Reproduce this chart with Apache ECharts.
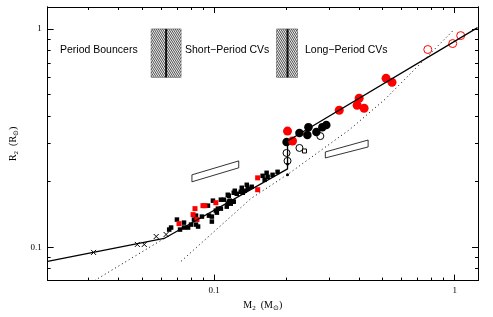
<!DOCTYPE html>
<html><head><meta charset="utf-8">
<script src="https://cdn.jsdelivr.net/npm/echarts@6/dist/echarts.min.js"></script>
<style>html,body{margin:0;padding:0;background:#fff}#c{width:493px;height:317px}</style>
</head><body><div id="c"></div>
<script>
// ---- data (M2 in Msun, R2 in Rsun) ----
const xMajorTicks = [0.1, 1];
const xMinorTicks = [0.03,0.04,0.05,0.06,0.07,0.08,0.09,0.2,0.3,0.4,0.5,0.6,0.7,0.8,0.9];
const yMajorTicks = [0.1, 1];
const yMinorTicks = [0.08,0.09,0.2,0.3,0.4,0.5,0.6,0.7,0.8,0.9];

const blackSmall = [
 [0.0650,0.1207],[0.0662,0.1233],[0.0700,0.1341],[0.0721,0.1207],[0.0749,0.1299],[0.0749,0.1233],
 [0.0779,0.1233],[0.0801,0.1272],[0.0824,0.1341],[0.0840,0.1398],[0.0840,0.1272],[0.0857,0.1246],
 [0.0889,0.1384],[0.0942,0.1553],[0.0951,0.1398],[0.0978,0.1313],[0.0978,0.1384],[0.0988,0.1637],
 [0.1016,0.1474],[0.1026,0.1443],[0.1036,0.1505],[0.1066,0.1654],[0.1066,0.1505],[0.1097,0.1654],
 [0.1128,0.1537],[0.1139,0.1742],[0.1139,0.1586],[0.1150,0.1620],[0.1150,0.1724],[0.1161,0.1637],
 [0.1172,0.1586],[0.1195,0.1620],[0.1206,0.1620],[0.1206,0.1779],[0.1218,0.1817],[0.1241,0.1761],
 [0.1290,0.1798],[0.1302,0.1875],[0.1315,0.1779],[0.1340,0.1817],[0.1366,0.1935],[0.1379,0.1856],
 [0.1432,0.1895],[0.1590,0.2127],[0.1621,0.2039],[0.1652,0.2195],[0.1668,0.2104],[0.1749,0.2149],
 [0.1835,0.2218]
];
const blackDots = [[0.2018,0.2149],[0.2018,0.2412]];
const redSmall = [
 [0.0714,0.1285],[0.0817,0.1413],[0.0832,0.1505],[0.0848,0.1341],[0.0898,0.1553],[0.0915,0.1553],
 [0.1016,0.1602],[0.1516,0.2082],[0.1516,0.1837]
];
const blackBig = [
 [0.1999,0.3037],[0.2262,0.3337],[0.2441,0.3267],[0.2465,0.3553],[0.2660,0.3373],[0.2816,0.3553],[0.2925,0.3630]
];
const redBig = [
 [0.2018,0.3407],[0.2117,0.3069],[0.3311,0.4247],[0.3930,0.4474],[0.4006,0.4817],[0.4201,0.4337],
 [0.5183,0.594],[0.5487,0.5696]
];
const blackOpen = [[0.2763,0.3233],[0.2262,0.2853],[0.1999,0.2706],[0.2018,0.2489]];
const blackOpenSquare = [[0.2373,0.2763]];
const redOpen = [[0.7729,0.805],[0.981,0.857],[1.059,0.932]];
const crosses = [[0.0315,0.0949],[0.0479,0.1032],[0.0512,0.1032],[0.0574,0.1122],[0.0631,0.1146]];

const sequenceLine = [[0.0203,0.0863],[0.0619,0.1099],[0.2018,0.2289],[0.2018,0.3069],[1.245,1.014]];
const dottedLow = [[0.0318,0.0705],[0.0619,0.1099]];
const dottedHigh = [[0.0728,0.0864],[0.1418,0.1671],[0.2037,0.2172],[0.3677,0.3479],[0.5133,0.4766],[1.0,1.0]];

// hatched period-gap bands: [mLow, mHigh, mCentre, rLow, rHigh]
const gapBands = [[0.0547,0.0728,0.0631,0.60,1.0],[0.1817,0.2220,0.2018,0.60,1.0]];
// error boxes (parallelograms)
const errorBoxes = [
 [[0.0808,0.2149],[0.0808,0.1997],[0.1265,0.2314],[0.1265,0.2489]],
 [[0.2898,0.2735],[0.2898,0.2568],[0.4365,0.2883],[0.4365,0.3101]]
];
const regionLabels = ['Period Bouncers','Short\u2212Period CVs','Long\u2212Period CVs'];

const xMin=0.0203, xMax=1.25, yMin=0.0705, yMax=1.26;
const serif = 'Liberation Serif';

function xAx(pos, ticks, len, labels){
  return {type:'log', logBase:10, min:xMin, max:xMax, position:pos, gridIndex:0,
    axisLine:{show:true, onZero:false, lineStyle:{color:'#000',width:1}},
    axisTick:{show:true, inside:true, length:len, customValues:ticks, lineStyle:{color:'#000',width:1}},
    axisLabel:{show:labels, customValues:ticks, formatter:v=>String(+(+v).toPrecision(3)), color:'#000', fontFamily:serif, fontSize:9, margin:6},
    splitLine:{show:false}, minorTick:{show:false}};
}
function yAx(pos, ticks, len, labels){
  return {type:'log', logBase:10, min:yMin, max:yMax, position:pos, gridIndex:0,
    axisLine:{show:true, onZero:false, lineStyle:{color:'#000',width:1}},
    axisTick:{show:true, inside:true, length:len, customValues:ticks, lineStyle:{color:'#000',width:1}},
    axisLabel:{show:labels, customValues:ticks, formatter:v=>String(+(+v).toPrecision(3)), color:'#000', fontFamily:serif, fontSize:9, margin:6},
    splitLine:{show:false}, minorTick:{show:false}};
}
const xAxes=[xAx('bottom',xMajorTicks,6,true), xAx('bottom',xMinorTicks,3,false), xAx('top',xMajorTicks,6,false), xAx('top',xMinorTicks,3,false)];
const yAxes=[yAx('left',yMajorTicks,6,true), yAx('left',yMinorTicks,3,false), yAx('right',yMajorTicks,6,false), yAx('right',yMinorTicks,3,false)];
xAxes[0].name='M{s|2}  (M{s|\u2299})'; xAxes[0].nameLocation='middle'; xAxes[0].nameGap=15;
xAxes[0].nameTextStyle={color:'#000',fontFamily:serif,fontSize:10,rich:{s:{fontFamily:serif,fontSize:7,verticalAlign:'bottom',padding:[6,0,0,0]}}};
yAxes[0].name='R{s|2}  (R{s|\u2299})'; yAxes[0].nameLocation='middle'; yAxes[0].nameGap=17; yAxes[0].nameRotate=90;
yAxes[0].nameTextStyle={color:'#000',fontFamily:serif,fontSize:10,rich:{s:{fontFamily:serif,fontSize:7,verticalAlign:'bottom',padding:[6,0,0,0]}}};

function sc(data, symbol, size, fill, stroke, bw, z){
  return {type:'scatter', data, symbol, symbolSize:size, z:z||3, silent:true,
    itemStyle:{color:fill, borderColor:stroke, borderWidth:bw||0, opacity:1}};
}

const option = {
  animation:false,
  grid:{left:46, top:7, width:432, height:275, containLabel:false},
  xAxis:xAxes, yAxis:yAxes,
  series:[
    {type:'custom', coordinateSystem:'cartesian2d', data:gapBands, encode:{x:[0,1,2],y:[3,4]}, z:1, silent:true,
     renderItem:function(params, api){
       const a=api.coord([api.value(0),api.value(4)]), b=api.coord([api.value(1),api.value(3)]);
       const x0=a[0], y0=a[1], w=b[0]-a[0], h=b[1]-a[1];
       const ch=[]; const k=1.8, s=1.9;
       for(let c=-h/k; c<=w; c+=s){
         const t0=Math.max(0,-c), t1=Math.min(h/k, w-c);
         if(t1>t0) ch.push({type:'line', shape:{x1:x0+c+t0,y1:y0+h-k*t0,x2:x0+c+t1,y2:y0+h-k*t1}, style:{stroke:'#000',lineWidth:0.7}});
       }
       ch.push({type:'rect', shape:{x:x0,y:y0,width:w,height:h}, style:{fill:null,stroke:'#444',lineWidth:0.5}});
       const cx=api.coord([api.value(2),api.value(4)])[0];
       ch.push({type:'line', shape:{x1:cx,y1:y0,x2:cx,y2:y0+h}, style:{stroke:'#111',lineWidth:2}});
       return {type:'group', children:ch};
     }},
    {type:'custom', coordinateSystem:'cartesian2d', data:errorBoxes.map((b,i)=>[b[0][0],b[2][0],b[1][1],b[3][1]]), encode:{x:[0,1],y:[2,3]}, z:2, silent:true,
     renderItem:function(params, api){
       const pts=errorBoxes[params.dataIndex].map(p=>api.coord(p));
       return {type:'polygon', shape:{points:pts}, style:{fill:'#fff',stroke:'#000',lineWidth:0.8}};
     }},
    {type:'line', data:sequenceLine, symbol:'none', z:4, silent:true, lineStyle:{color:'#000',width:1.3}},
    {type:'line', data:dottedLow, symbol:'none', z:2, silent:true, lineStyle:{color:'#000',width:1,type:[1,3]}},
    {type:'line', data:dottedHigh, symbol:'none', z:2, silent:true, lineStyle:{color:'#000',width:1,type:[1,3]}},
    sc(blackSmall,'rect',4.5,'#000'),
    sc(blackDots,'circle',3,'#000'),
    sc(redSmall,'rect',5,'#ff0000'),
    sc(blackBig,'circle',8.5,'#000'),
    sc(redBig,'circle',9,'#ff0000'),
    sc(blackOpen,'circle',7,'rgba(0,0,0,0)','#000',1),
    sc(blackOpenSquare,'rect',4,'rgba(0,0,0,0)','#000',1),
    sc(redOpen,'circle',8,'rgba(0,0,0,0)','#ff0000',1),
    sc(crosses,'path://M0,0L10,10M10,0L0,10',5,'none','#000',1)
  ],
  graphic:[
    {type:'text', left:60, top:45, style:{text:regionLabels[0], fill:'#000', font:'10.5px "Liberation Sans"'}},
    {type:'text', left:185, top:45, style:{text:regionLabels[1], fill:'#000', font:'10.5px "Liberation Sans"'}},
    {type:'text', left:305, top:45, style:{text:regionLabels[2], fill:'#000', font:'10.5px "Liberation Sans"'}}
  ]
};
const chart = echarts.init(document.getElementById('c'), null, {renderer:'canvas'});
chart.setOption(option);
</script></body></html>
